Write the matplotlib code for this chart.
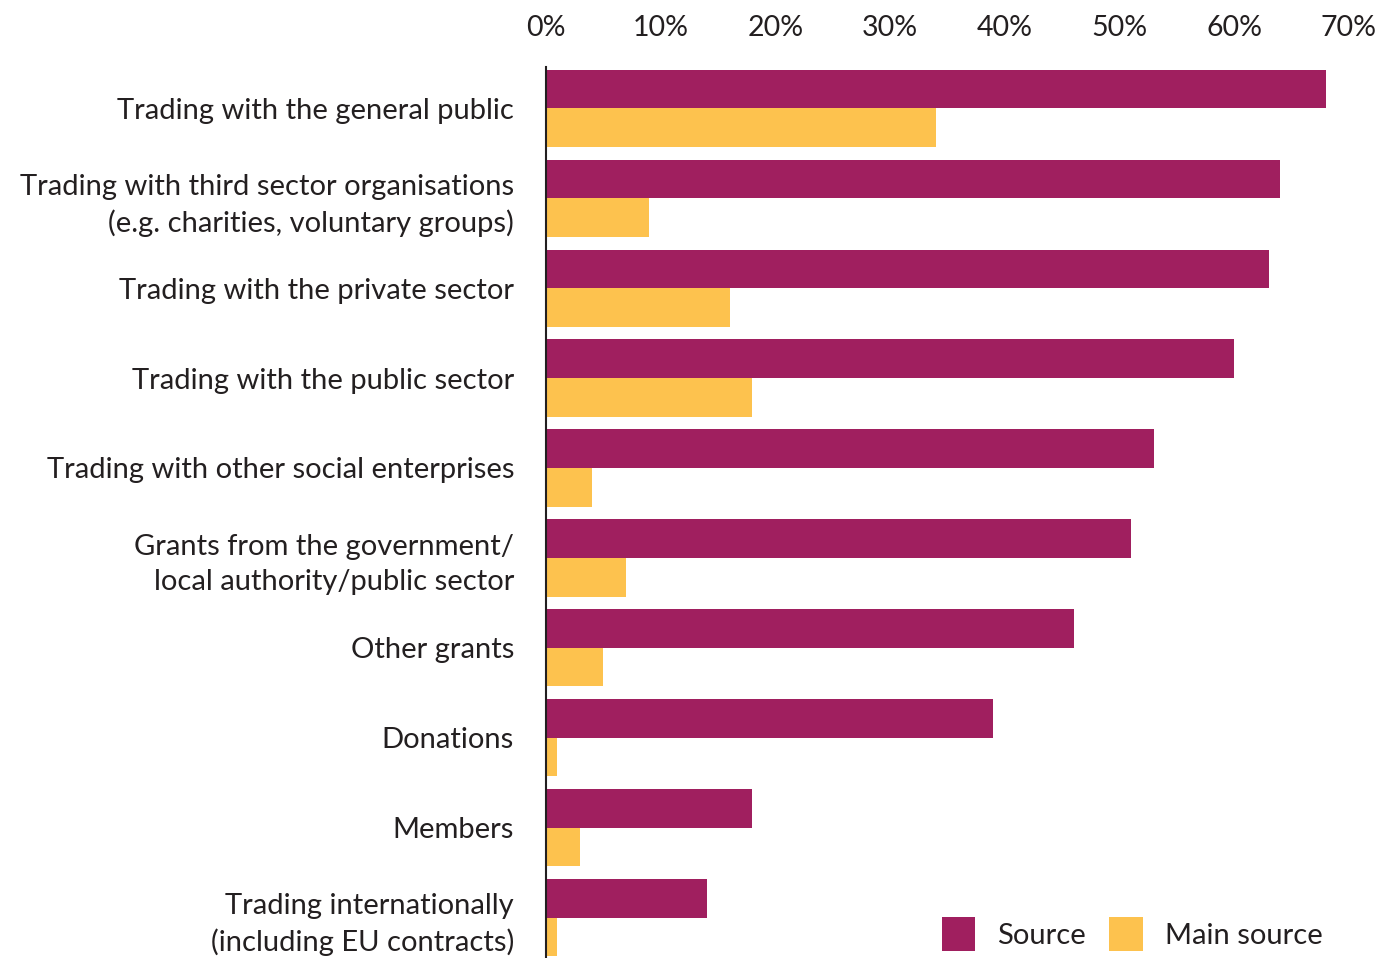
import matplotlib.pyplot as plt
import numpy as np

categories = [
    "Trading with the general public",
    "Trading with third sector organisations\n(e.g. charities, voluntary groups)",
    "Trading with the private sector",
    "Trading with the public sector",
    "Trading with other social enterprises",
    "Grants from the government/\nlocal authority/public sector",
    "Other grants",
    "Donations",
    "Members",
    "Trading internationally\n(including EU contracts)",
]
source = [68, 64, 63, 60, 53, 51, 46, 39, 18, 14]
main_source = [34, 9, 16, 18, 4, 7, 5, 1, 3, 1]
ticks = [0, 10, 20, 30, 40, 50, 60, 70]

purple = "#A01F5F"
yellow = "#FDC24E"
text_col = "#231F20"

plt.rcParams["font.family"] = ["Lato", "DejaVu Sans"]

fig = plt.figure(figsize=(13.94, 9.58), dpi=100)
ax = fig.add_axes([546 / 1394, 0, (1349 - 546) / 1394, (958 - 67) / 958])

y = np.arange(len(categories))
h = 0.43
ax.barh(y - h / 2, source, height=h, color=purple, label="Source")
ax.barh(y + h / 2, main_source, height=h, color=yellow, label="Main source")

ax.set_xlim(0, 70)
ax.set_ylim(9.45, -0.46)
ax.xaxis.tick_top()
ax.set_xticks(ticks)
ax.set_xticklabels([f"{t}%" for t in ticks], fontsize=20.5, color=text_col)
ax.tick_params(axis="x", length=0, pad=19)
ax.set_yticks(y)
ax.set_yticklabels(categories, fontsize=21, color=text_col, linespacing=1.4)
ax.tick_params(axis="y", length=0, pad=23)

for s in ["top", "right", "bottom"]:
    ax.spines[s].set_visible(False)
ax.spines["left"].set_color(text_col)
ax.spines["left"].set_linewidth(1.5)

ax.legend(loc="lower right", bbox_to_anchor=(1.0, -0.022), ncol=2, frameon=False,
          fontsize=21, handlelength=1.16, handleheight=1.42, columnspacing=0.8,
          handletextpad=0.75, labelcolor=text_col)

fig.savefig("out.png", dpi=100)
